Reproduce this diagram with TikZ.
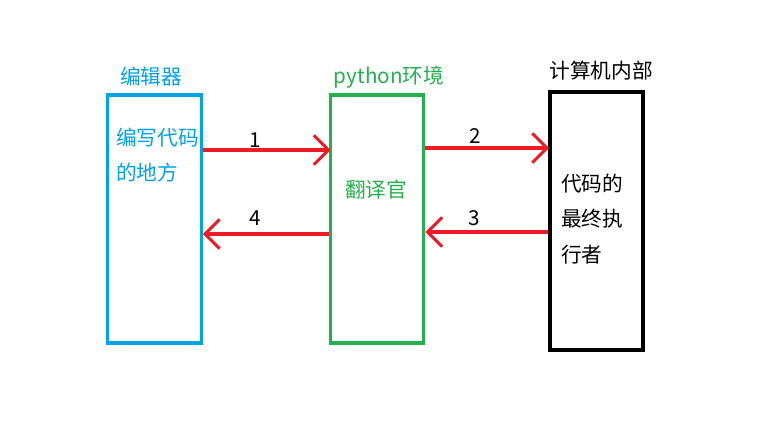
\documentclass[tikz,border=0pt]{standalone}
\usepackage{fontspec}
\newfontfamily\cjk{Noto Sans CJK SC}
\usetikzlibrary{arrows.meta,positioning}
\definecolor{edblue}{RGB}{0,162,232}
\definecolor{pygreen}{RGB}{34,177,76}
\definecolor{arrred}{RGB}{237,28,36}

\begin{document}
\begin{tikzpicture}[
            x=0.75pt, y=-0.75pt,
            every node/.style={font=\cjk\fontsize{15.5}{27}\selectfont, inner sep=0pt},
            box/.style={draw, line width=2.4pt, minimum width=70pt, minimum height=186pt},
            arr/.style={draw=arrred, line width=2.3pt, -{Straight Barb[length=11pt, width=22pt, line width=2.3pt]}},
            num/.style={text=black, anchor=center}
        ]
        \useasboundingbox (0,0) rectangle (767,436);
        % boxes
        \node[box, draw=edblue] (editor) at (154.5,219) {};
        \node[box, draw=pygreen] (env) at (377,219) {};
        \node[box, draw=black, line width=3pt, minimum height=194pt] (cpu) at (596.5,221) {};

        % titles
        \node[text=edblue] (editortitle) at (151,77) {编辑器};
        \node[text=pygreen] (envtitle) at (389,77) {python环境};
        \node (cputitle) at (601,71) {计算机内部};

        % inner texts
        \node[text=edblue, align=left, anchor=west] (editortext) at (116,155) {编写代码\\[-0.5pt]的地方};
        \node[text=pygreen] (envtext) at (376,190) {翻译官};
        \node[align=left, anchor=west] (cputext) at (561,219) {代码的\\[-0.5pt]最终执\\[-0.5pt]行者};

        % arrow rows
        \coordinate (r1) at (0,150);
        \coordinate (r2) at (0,148);
        \coordinate (r3) at (0,232);
        \coordinate (r4) at (0,234);

        \draw[arr] (editor.east |- r1) -- ([xshift=1.5pt]env.west |- r1) node[num, pos=0.41, yshift=7.5pt] (n1) {1};
        \draw[arr] (env.east |- r2) -- ([xshift=1pt]cpu.west |- r2) node[num, pos=0.40, yshift=9pt] (n2) {2};
        \draw[arr] (cpu.west |- r3) -- (env.east |- r3) node[num, pos=0.60, yshift=10.5pt] (n3) {3};
        \draw[arr] (env.west |- r4) -- (editor.east |- r4) node[num, pos=0.585, yshift=12pt] (n4) {4};
    \end{tikzpicture}
\end{document}
